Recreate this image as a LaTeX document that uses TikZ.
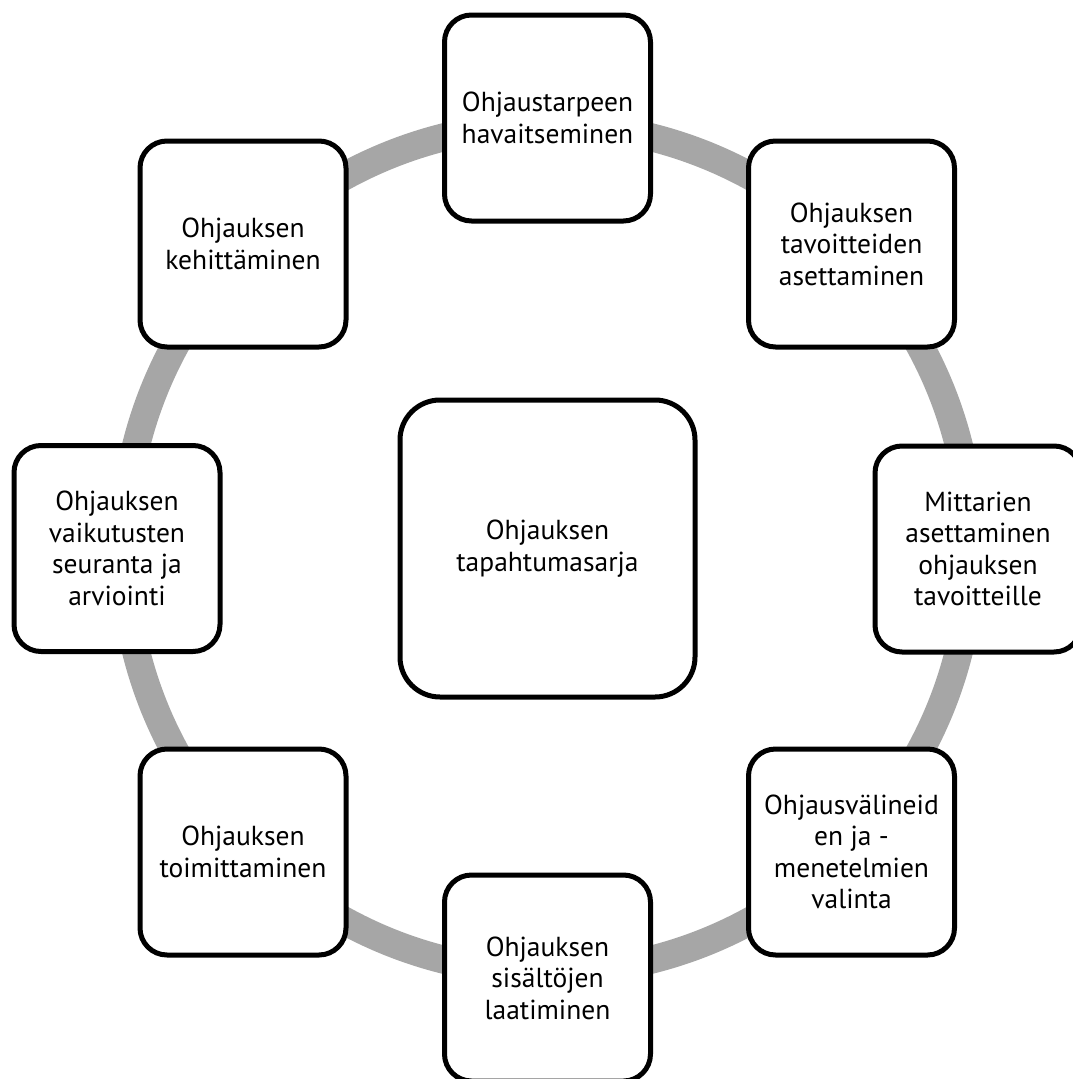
\documentclass[tikz,border=0pt]{standalone}
\usepackage{fontspec}
\setmainfont{PT Sans}
\definecolor{ringgray}{RGB}{166,166,166}
\begin{document}
\begin{tikzpicture}[x=1pt,y=-1pt,
  stepbox/.style={draw=black, line width=5pt, fill=white, rounded corners=27pt,
    minimum width=206pt, minimum height=206pt, align=center,
    font=\fontsize{27.5}{31.5}\selectfont, inner sep=0pt},
  hubbox/.style={stepbox, minimum width=295pt, minimum height=297pt, rounded corners=40pt},
  ring/.style={draw=ringgray, line width=28pt}]
\useasboundingbox (0,0) rectangle (1073,1079);
\clip (0,0) rectangle (1073,1079);
\coordinate (c) at (547.5,548.5);
\draw[ring] (c) circle[radius=424pt];
\node[hubbox] (hub) at (c) {Ohjauksen\\tapahtumasarja};
\node[stepbox] (n1) at (547.5,118) {Ohjaustarpeen\\havaitseminen};
\node[stepbox] (n2) at (851.5,244) {Ohjauksen\\tavoitteiden\\asettaminen};
\node[stepbox] (n3) at (978,549) {Mittarien\\asettaminen\\ohjauksen\\tavoitteille};
\node[stepbox] (n4) at (851.5,852) {Ohjausvälineid\\en ja -\\menetelmien\\valinta};
\node[stepbox] (n5) at (547.5,978) {Ohjauksen\\sisältöjen\\laatiminen};
\node[stepbox] (n6) at (243,852) {Ohjauksen\\toimittaminen};
\node[stepbox] (n7) at (117,548.5) {Ohjauksen\\vaikutusten\\seuranta ja\\arviointi};
\node[stepbox] (n8) at (243,244) {Ohjauksen\\kehittäminen};
\end{tikzpicture}
\end{document}
